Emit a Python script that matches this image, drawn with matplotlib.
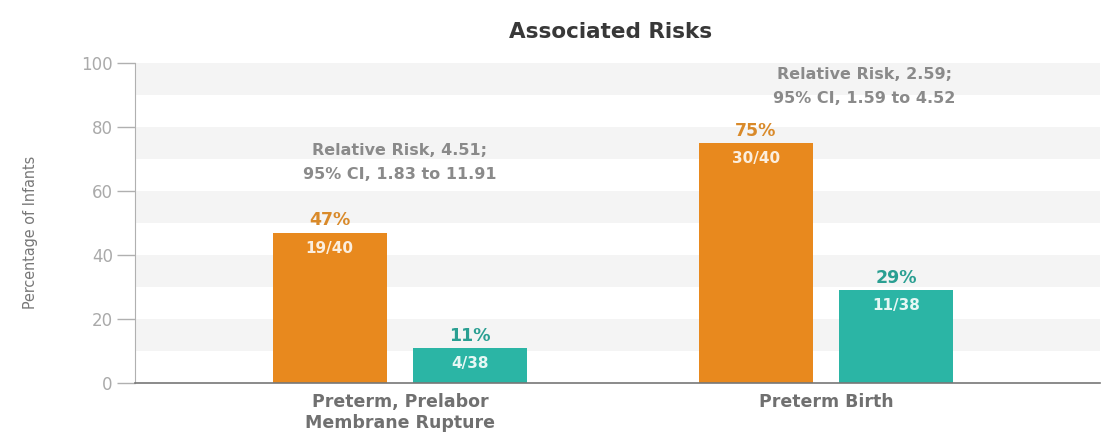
import matplotlib.pyplot as plt
import numpy as np

# données
categories = ['Preterm, Prelabor\nMembrane Rupture', 'Preterm Birth']
group_a = [47, 75]          # orange
group_b = [11, 29]          # teal
frac_a = ['19/40', '30/40']
frac_b = ['4/38', '11/38']
rr_notes = ['Relative Risk, 4.51;\n95% CI, 1.83 to 11.91',
            'Relative Risk, 2.59;\n95% CI, 1.59 to 4.52']
yticks = [0, 20, 40, 60, 80, 100]

plt.rcParams['font.family'] = ['DejaVu Sans']

orange = '#E8891E'
teal = '#2BB5A5'
grey = '#8a8a8a'

fig = plt.figure(figsize=(11.1, 4.42), dpi=100)
ax = fig.add_axes([0.1216, 0.1335, 0.8694, 0.724])

# bandes de fond
for y0 in range(10, 100, 20):
    ax.axhspan(y0, y0 + 10, color='#f4f4f4', zorder=0, lw=0)

x = np.arange(len(categories))
w = 0.268
off = 0.165
ax.bar(x - off, group_a, w, color=orange, zorder=2)
ax.bar(x + off, group_b, w, color=teal, zorder=2)

for i in range(len(categories)):
    ax.text(x[i] - off, group_a[i] + 1, f'{group_a[i]}%', ha='center', va='bottom',
            color='#d98a2a', fontsize=12.5, fontweight='bold')
    ax.text(x[i] + off, group_b[i] + 1, f'{group_b[i]}%', ha='center', va='bottom',
            color='#2a9f92', fontsize=12.5, fontweight='bold')
    ax.text(x[i] - off, group_a[i] - 2.5, frac_a[i], ha='center', va='top',
            color='#fbeede', fontsize=11, fontweight='bold')
    ax.text(x[i] + off, group_b[i] - 2.5, frac_b[i], ha='center', va='top',
            color='#e6f7f4', fontsize=11, fontweight='bold')

ax.text(0.0, 69, rr_notes[0], ha='center', va='center', color=grey,
        fontsize=11.5, fontweight='bold', linespacing=1.75)
ax.text(1.09, 92.5, rr_notes[1], ha='center', va='center', color=grey,
        fontsize=11.5, fontweight='bold', linespacing=1.75)

ax.set_xlim(-0.622, 1.643)
ax.set_ylim(0, 100)
ax.set_yticks(yticks)
ax.set_xticks(x)
ax.set_xticklabels(categories, color='#707070', fontsize=12.5, fontweight='bold',
                   linespacing=1.2)
ax.tick_params(axis='x', length=0, pad=7)
ax.tick_params(axis='y', colors='#b0b0b0', labelsize=12, length=13, width=1,
               direction='out', pad=3)
for lbl in ax.get_yticklabels():
    lbl.set_color('#aaaaaa')

ax.spines['top'].set_visible(False)
ax.spines['right'].set_visible(False)
ax.spines['left'].set_color('#b0b0b0')
ax.spines['bottom'].set_color('#777777')
ax.spines['bottom'].set_linewidth(1.2)

ax.set_ylabel('Percentage of Infants', color='#777777', fontsize=11.5, labelpad=26,
              fontstretch='condensed')
ax.yaxis.set_label_coords(-0.1, 0.47)
fig.suptitle('Associated Risks', x=0.55, y=0.95, fontsize=15.5, fontweight='bold',
             color='#383838')

fig.savefig('out.png', dpi=100)
